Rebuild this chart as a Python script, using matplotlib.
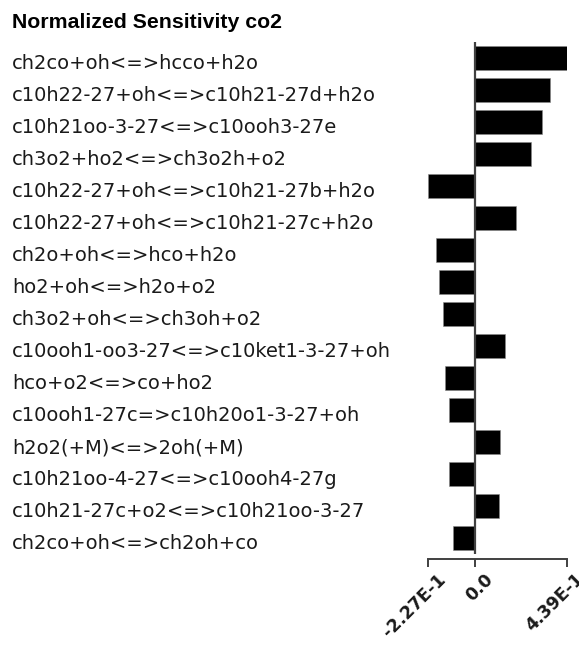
import matplotlib
matplotlib.use("Agg")
import matplotlib.pyplot as plt
import matplotlib.transforms as mtransforms

title = "Normalized Sensitivity co2"
reactions = [
    "ch2co+oh<=>hcco+h2o",
    "c10h22-27+oh<=>c10h21-27d+h2o",
    "c10h21oo-3-27<=>c10ooh3-27e",
    "ch3o2+ho2<=>ch3o2h+o2",
    "c10h22-27+oh<=>c10h21-27b+h2o",
    "c10h22-27+oh<=>c10h21-27c+h2o",
    "ch2o+oh<=>hco+h2o",
    "ho2+oh<=>h2o+o2",
    "ch3o2+oh<=>ch3oh+o2",
    "c10ooh1-oo3-27<=>c10ket1-3-27+oh",
    "hco+o2<=>co+ho2",
    "c10ooh1-27c=>c10h20o1-3-27+oh",
    "h2o2(+M)<=>2oh(+M)",
    "c10h21oo-4-27<=>c10ooh4-27g",
    "c10h21-27c+o2<=>c10h21oo-3-27",
    "ch2co+oh<=>ch2oh+co",
]
sensitivity = [0.439, 0.361, 0.322, 0.265, -0.227, 0.197, -0.188, -0.177,
               -0.157, 0.140, -0.148, -0.128, 0.118, -0.128, 0.111, -0.109]
tick_values = [-0.227, 0.0, 0.439]
tick_labels = ["-2.27E-1", "0.0", "4.39E-1"]

W, H = 579, 648
fig = plt.figure(figsize=(W / 100, H / 100), dpi=100)
fig.patch.set_facecolor("white")

ax_left, ax_right = 428.3, 566.7
ax_top, ax_bottom = 41.5, 553.5
ax = fig.add_axes([ax_left / W, 1 - ax_bottom / H,
                   (ax_right - ax_left) / W, (ax_bottom - ax_top) / H])

pos = list(range(len(reactions)))
ax.barh(pos, sensitivity, height=0.75, color="black", edgecolor="#888888",
        linewidth=0.4)
ax.set_xlim(tick_values[0], tick_values[-1])
ax.set_ylim(len(reactions) - 0.5, -0.5)
ax.axvline(0, color="#404040", linewidth=1.6, zorder=3)

for s in ["top", "right", "left"]:
    ax.spines[s].set_visible(False)
ax.spines["bottom"].set_position(("outward", 4))
ax.spines["bottom"].set_color("#404040")
ax.spines["bottom"].set_linewidth(1.4)
ax.set_yticks([])
ax.set_xticks(tick_values)
ax.set_xticklabels(tick_labels, rotation=45, ha="right",
                   rotation_mode="anchor", fontweight="bold", fontsize=12.5,
                   color="#1a1a1a")
ax.tick_params(axis="x", direction="out", length=6, width=1.4,
               color="#404040", pad=2)
offset = mtransforms.ScaledTranslation(6 / 72, 0, fig.dpi_scale_trans)
for lbl in ax.get_xticklabels():
    lbl.set_transform(lbl.get_transform() + offset)

trans = mtransforms.blended_transform_factory(fig.transFigure, ax.transData)
for i, lab in enumerate(reactions):
    ax.text(12 / W, i + 11.5 / 32, lab, transform=trans, ha="left",
            va="baseline", fontsize=14, family="DejaVu Sans",
            color="#1a1a1a", clip_on=False)

fig.text(12 / W, 1 - 28.3 / H, title, ha="left", va="baseline",
         fontsize=15.3, fontweight="bold", family="Liberation Sans",
         color="black")

fig.savefig("out.png", dpi=100)
